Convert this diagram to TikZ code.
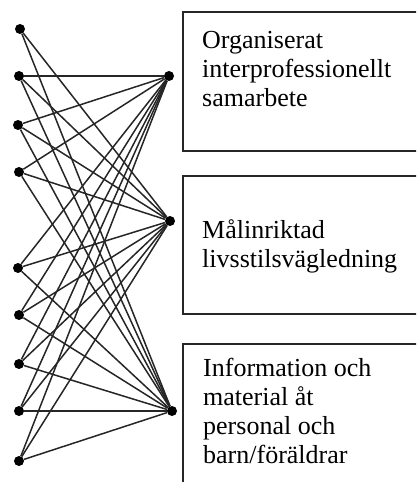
\documentclass[tikz,border=0pt]{standalone}
\usepackage{fontspec}
\setmainfont{Liberation Serif}
\begin{document}
\begin{tikzpicture}[x=1pt,y=1pt,
  dot/.style={circle,fill=black,inner sep=0pt,minimum size=10pt},
  link/.style={line width=1.5pt,black!85},
  panel/.style={draw=black!85,line width=1.4pt},
  lbl/.style={anchor=base west,inner sep=0pt,font=\fontsize{26}{30}\selectfont}]
\useasboundingbox (0,0) rectangle (416,482);
\clip (0,0) rectangle (416,482);

% left column of points
\node[dot] (l1) at (20,453) {};
\node[dot] (l2) at (19,406) {};
\node[dot] (l3) at (18,357) {};
\node[dot] (l4) at (19,310) {};
\node[dot] (l5) at (18,214) {};
\node[dot] (l6) at (19,167) {};
\node[dot] (l7) at (19,118) {};
\node[dot] (l8) at (19,71) {};
\node[dot] (l9) at (19,21) {};

% right column of points, one per category
\node[dot] (r1) at (169,406) {};
\node[dot] (r2) at (170,261) {};
\node[dot] (r3) at (172,71) {};

% connections
\foreach \i in {1,...,9} {
  \draw[link] (l\i) -- (r2);
  \draw[link] (l\i) -- (r3);
}
\foreach \i in {2,...,9} {
  \draw[link] (l\i) -- (r1);
}

% category boxes
\draw[panel] (183,470) rectangle (440,331);
\draw[panel] (183,306) rectangle (440,168);
\draw[panel] (183,138) rectangle (440,-20);

\node[lbl] (t11) at (202,433) {Organiserat};
\node[lbl] (t12) at (202,404) {interprofessionellt};
\node[lbl] (t13) at (202,375) {samarbete};

\node[lbl] (t21) at (202,243) {Målinriktad};
\node[lbl] (t22) at (202,214) {livsstilsvägledning};

\node[lbl] (t31) at (203,105) {Information och};
\node[lbl] (t32) at (203,76) {material åt};
\node[lbl] (t33) at (203,47) {personal och};
\node[lbl] (t34) at (203,19) {barn/föräldrar};
\end{tikzpicture}
\end{document}
